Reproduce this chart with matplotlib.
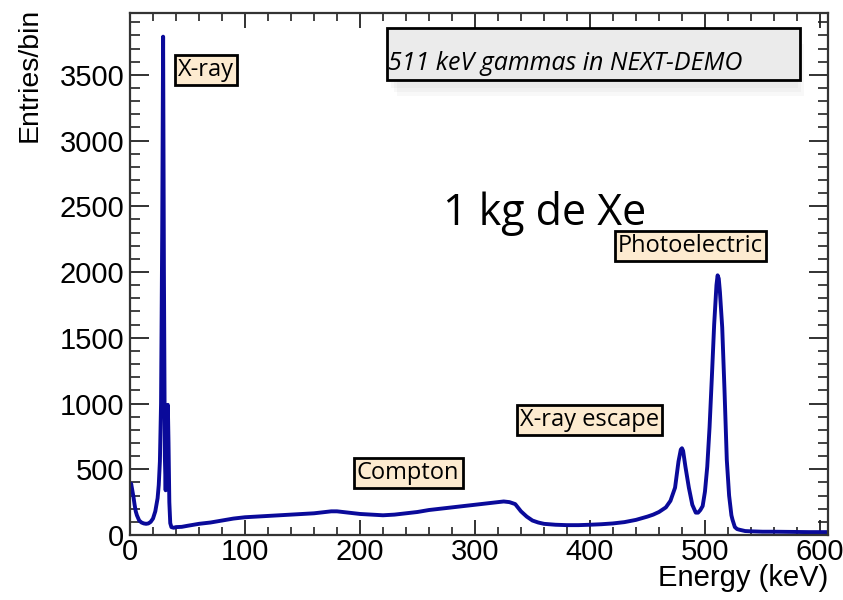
import matplotlib
matplotlib.use("Agg")
import matplotlib.pyplot as plt
from matplotlib.ticker import MultipleLocator
from matplotlib.patches import FancyBboxPatch

# energy (keV) and entries per bin
energy = [0, 1, 2, 3, 4, 5, 6, 8, 10, 12, 14, 16, 18, 20, 22, 24, 25, 26, 27, 28,
          28.8, 29.5, 30.3, 31, 31.8, 32.4, 32.9, 33.5, 34.2, 35, 36, 38, 40, 45, 50,
          60, 70, 80, 90, 100, 110, 120, 130, 140, 150, 160, 170, 175, 180, 185, 190,
          200, 210, 220, 230, 240, 250, 260, 270, 280, 290, 300, 310, 320, 325, 330,
          335, 340, 345, 350, 355, 360, 370, 380, 390, 400, 410, 420, 430, 440, 450,
          455, 460, 466, 470, 474, 477, 479, 480, 481, 483, 486, 489, 492, 494, 496,
          498, 500, 502, 504, 506, 508, 510, 511, 512, 513, 515, 517, 519, 521, 523,
          524, 526, 528, 530, 535, 540, 550, 560, 570, 580, 590, 600, 607]
entries = [330, 390, 340, 290, 230, 180, 150, 110, 95, 88, 85, 88, 100, 125, 180, 280,
           380, 560, 1000, 2300,
           3790, 2000, 600, 340, 700, 960, 990, 700, 250, 90, 60, 55, 60, 62, 70,
           85, 95, 110, 125, 135, 140, 145, 150, 155, 160, 165, 175, 180, 180, 175, 170,
           160, 155, 150, 155, 165, 175, 190, 200, 210, 220, 230, 240, 250, 255, 250,
           235, 180, 140, 110, 95, 85, 78, 75, 75, 78, 82, 88, 98, 115, 140,
           155, 175, 210, 260, 360, 560, 650, 660, 640, 520, 360, 230, 170, 170, 190,
           220, 330, 520, 820, 1200, 1600, 1900, 1975, 1950, 1850, 1580, 1100, 570, 300, 150,
           115, 60, 45, 40, 30, 28, 25, 25, 24, 23, 22, 22, 22]

labels = ["X-ray", "Compton", "X-ray escape", "Photoelectric"]
label_pos = [(178, 70), (357, 473), (520, 420), (618, 246)]  # pixel positions (left, center y)

W, H = 843, 600
fig = plt.figure(figsize=(W / 100, H / 100), dpi=100)
ax = fig.add_axes([130 / W, 1 - 535 / H, (828 - 130) / W, (535 - 13) / H])

ax.plot(energy, entries, color="#0a0a9a", lw=2.8)
ax.set_xlim(0, 607)
ax.set_ylim(0, 3970)

ax.xaxis.set_major_locator(MultipleLocator(100))
ax.xaxis.set_minor_locator(MultipleLocator(20))
ax.yaxis.set_major_locator(MultipleLocator(500))
ax.yaxis.set_minor_locator(MultipleLocator(100))
ax.tick_params(axis="both", which="both", direction="in", top=True, right=True,
               colors="#222222", labelcolor="black")
ax.tick_params(axis="x", which="major", length=11, width=1.3, labelsize=21, pad=2)
ax.tick_params(axis="x", which="minor", length=5.5, width=1.2)
ax.tick_params(axis="y", which="major", length=14, width=1.3, labelsize=21, pad=4)
ax.tick_params(axis="y", which="minor", length=7, width=1.2)
for lab in ax.get_xticklabels() + ax.get_yticklabels():
    lab.set_family(["Liberation Sans", "DejaVu Sans"])
for sp in ax.spines.values():
    sp.set_linewidth(1.6)
    sp.set_color("#333333")

fig.text(828 / W, 1 - 578 / H, "Energy (keV)", ha="right", va="center", fontsize=21,
         family=["Liberation Sans", "DejaVu Sans"])
fig.text(30 / W, 1 - 8 / H, "Entries/bin", ha="center", va="top", rotation=90,
         fontsize=20.5, family=["Liberation Sans", "DejaVu Sans"])

# label boxes
for txt, (px, py) in zip(labels, label_pos):
    fig.text(px / W, 1 - py / H, txt, ha="left", va="center", fontsize=17,
             family=["Open Sans", "DejaVu Sans"],
             bbox=dict(boxstyle="square,pad=0.14", fc="#fdebd0", ec="black", lw=2))

fig.text(443 / W, 1 - 214 / H, "1 kg de Xe", ha="left", va="center", fontsize=31,
         family=["Open Sans", "DejaVu Sans"])

# title box with soft shadow
for i, a in enumerate([0.05, 0.05, 0.05]):
    fig.patches.append(FancyBboxPatch(((387 + 4 + i * 3) / W, 1 - (88 + i * 4) / H),
                                      (413 - 6) / W, 52 / H, boxstyle="square,pad=0",
                                      transform=fig.transFigure, fc="gray", ec="none",
                                      alpha=a))
fig.patches.append(FancyBboxPatch((387 / W, 1 - 80 / H), 413 / W, 52 / H,
                                  boxstyle="square,pad=0", transform=fig.transFigure,
                                  fc="#ebebeb", ec="black", lw=2))
fig.text(388 / W, 1 - 64 / H, "511 keV gammas in NEXT-DEMO", ha="left", va="center",
         fontsize=18, style="italic", family=["Open Sans", "DejaVu Sans"])

fig.savefig("out.png", dpi=100)
